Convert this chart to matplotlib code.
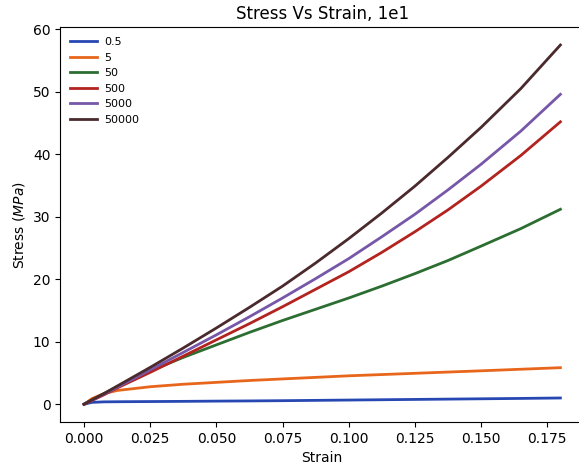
import matplotlib
matplotlib.use("Agg")
import matplotlib.pyplot as plt

strain = [0.0, 0.003, 0.0075, 0.0125, 0.025, 0.0375, 0.05, 0.0625, 0.075,
          0.0875, 0.1, 0.1125, 0.125, 0.1375, 0.15, 0.165, 0.18]

labels = ["0.5", "5", "50", "500", "5000", "50000"]
colors = ["#2747b3", "#e8661c", "#2c6e31", "#b3231f", "#7657a8", "#4a2a2c"]

# stress (MPa)
s_05 = [0.0, 0.3, 0.38, 0.4, 0.43, 0.46, 0.5, 0.53, 0.57, 0.62, 0.67,
        0.72, 0.77, 0.82, 0.87, 0.93, 1.0]
s_5 = [0.0, 0.9, 1.7, 2.2, 2.8, 3.2, 3.5, 3.8, 4.05, 4.3, 4.55,
       4.75, 4.95, 5.15, 5.35, 5.6, 5.85]
s_50 = [0.0, 0.7, 1.7, 2.8, 5.3, 7.5, 9.5, 11.5, 13.4, 15.2, 17.0,
        18.9, 20.9, 23.0, 25.3, 28.1, 31.2]
s_500 = [0.0, 0.6, 1.5, 2.6, 5.1, 7.7, 10.3, 12.9, 15.6, 18.4, 21.2,
         24.3, 27.6, 31.1, 34.9, 39.8, 45.2]
s_5000 = [0.0, 0.65, 1.6, 2.7, 5.5, 8.3, 11.1, 14.0, 17.0, 20.1, 23.3,
          26.8, 30.4, 34.3, 38.4, 43.7, 49.6]
s_50000 = [0.0, 0.7, 1.7, 2.9, 5.9, 9.0, 12.2, 15.5, 18.9, 22.6, 26.5,
           30.6, 34.9, 39.5, 44.3, 50.5, 57.5]

series = [s_05, s_5, s_50, s_500, s_5000, s_50000]

fig = plt.figure(figsize=(5.79, 4.66), dpi=100)
ax = fig.add_axes([0.104, 0.094, 0.905, 0.848])
for vals, lab, c in zip(series, labels, colors):
    ax.plot(strain, vals, color=c, lw=2, label=lab)

ax.set_xticks([0.0, 0.025, 0.05, 0.075, 0.1, 0.125, 0.15, 0.175])
ax.set_xlabel("Strain")
ax.set_ylabel("Stress ($MPa$)")
ax.set_title("Stress Vs Strain, 1e1")
ax.legend(loc="upper left", fontsize=8, frameon=False,
          handlelength=2.4, handletextpad=0.7)

fig.savefig("out.png", dpi=100)
